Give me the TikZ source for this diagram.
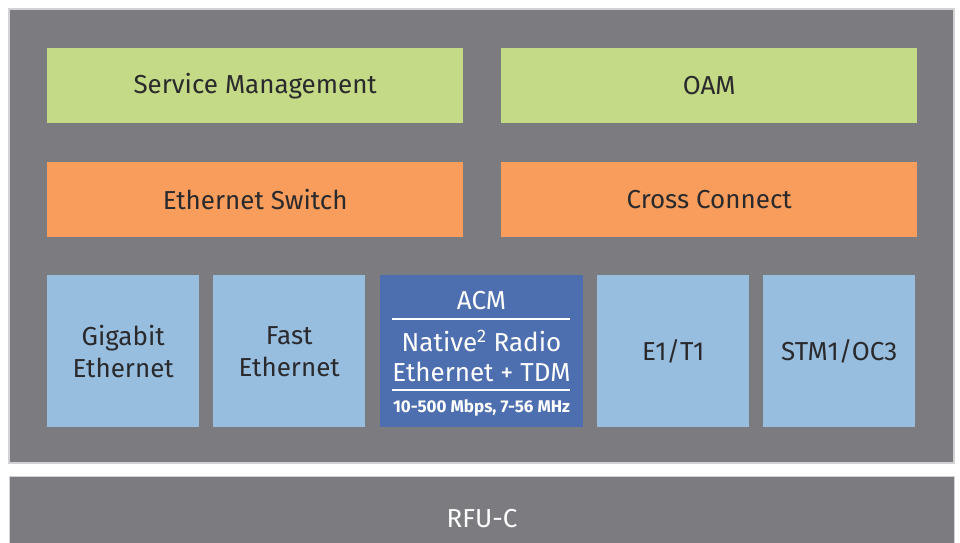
\documentclass[tikz,border=0pt]{standalone}
\usepackage{fontspec}
\setmainfont{Fira Sans}
\definecolor{panelgray}{HTML}{7B7B80}
\definecolor{edgegray}{HTML}{D2D2D4}
\definecolor{mgmtgreen}{HTML}{C4DA86}
\definecolor{switchorange}{HTML}{F89D5C}
\definecolor{ifblue}{HTML}{97BDDF}
\definecolor{radioblue}{HTML}{4E6FAF}
\definecolor{textdark}{HTML}{2A2A2D}

\begin{document}
\begin{tikzpicture}[x=1pt,y=-1pt,
    block/.style={anchor=north west,inner sep=0pt,align=center,text=textdark,
      font=\fontsize{26}{32}\selectfont},
    mgmt/.style={block,fill=mgmtgreen,minimum width=416pt,minimum height=75pt},
    switchbox/.style={block,fill=switchorange,minimum width=416pt,minimum height=75pt},
    ifbox/.style={block,fill=ifblue,minimum width=152pt,minimum height=152pt},
    radiotext/.style={inner sep=0pt,text=white,font=\fontsize{26}{32}\selectfont}]
  \useasboundingbox (0,0) rectangle (960,542);

  % outer panel and RFU bar
  \draw[fill=panelgray,draw=edgegray,line width=1.2pt] (9,9) rectangle (954,463);
  \node[block,fill=panelgray,draw=edgegray,line width=1.2pt,text=white,
    minimum width=945pt,minimum height=84pt] (rfu) at (9,476) {RFU-C};

  % management and switching layers
  \node[mgmt] (svc) at (47,48) {Service Management};
  \node[mgmt] (oam) at (501,48) {OAM};
  \node[switchbox] (ethsw) at (47,162) {Ethernet Switch};
  \node[switchbox] (xconn) at (501,162) {Cross Connect};

  % interfaces
  \node[ifbox] (gbe) at (47,275) {Gigabit\\Ethernet};
  \node[ifbox] (fe) at (213,275) {Fast\\Ethernet};
  \node[ifbox] (e1t1) at (597,275) {E1/T1};
  \node[ifbox] (stm) at (763,275) {STM1/OC3};

  % radio block
  \node[block,fill=radioblue,minimum width=203pt,minimum height=152pt] (radio) at (380,275) {};
  \node[radiotext] (acm) at (481.5,301) {ACM};
  \draw[white,line width=1.5pt] (392,319) -- (570,319);
  \node[radiotext] (native) at (481.5,341) {Native\textsuperscript{2} Radio};
  \node[radiotext] (ethtdm) at (481.5,372) {Ethernet + TDM};
  \draw[white,line width=1.5pt] (392,390) -- (570,390);
  \node[radiotext,font=\fontsize{17}{20}\selectfont\bfseries] (rate) at (481.5,408) {10-500 Mbps, 7-56 MHz};
\end{tikzpicture}
\end{document}
